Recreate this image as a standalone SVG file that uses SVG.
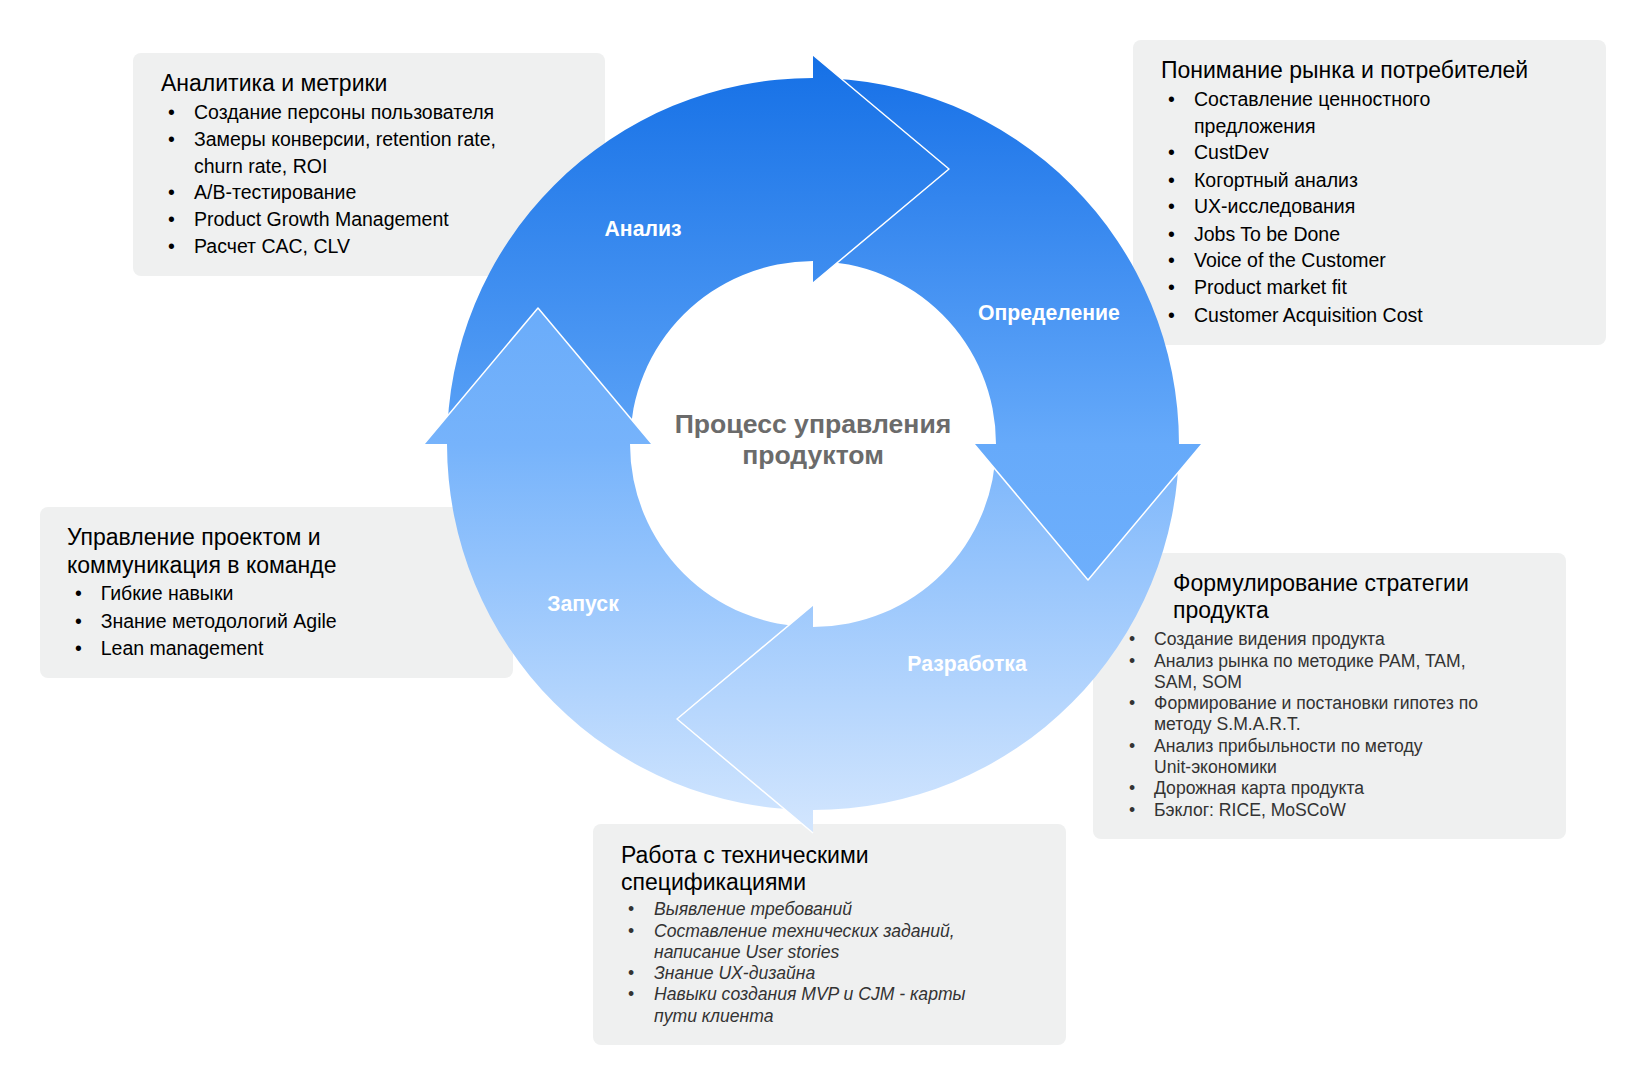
<svg xmlns="http://www.w3.org/2000/svg" width="1646" height="1086" viewBox="0 0 1646 1086">
<defs>
<linearGradient id="gA" gradientUnits="userSpaceOnUse" x1="0" y1="55" x2="0" y2="444">
<stop offset="0" stop-color="#1570e6"/><stop offset="1" stop-color="#5ca3f7"/>
</linearGradient>
<linearGradient id="gO" gradientUnits="userSpaceOnUse" x1="0" y1="78" x2="0" y2="580">
<stop offset="0" stop-color="#1a73e8"/><stop offset="0.73" stop-color="#66aafa"/><stop offset="1" stop-color="#6eaffc"/>
</linearGradient>
<linearGradient id="gZ" gradientUnits="userSpaceOnUse" x1="0" y1="310" x2="0" y2="809">
<stop offset="0" stop-color="#6aacfa"/><stop offset="0.27" stop-color="#76b3fb"/><stop offset="1" stop-color="#cde3fe"/>
</linearGradient>
<linearGradient id="gR" gradientUnits="userSpaceOnUse" x1="0" y1="444" x2="0" y2="833">
<stop offset="0" stop-color="#7ab5fb"/><stop offset="1" stop-color="#d3e6fe"/>
</linearGradient>
</defs>
<style>
.box{fill:#eff0f0}
.t{font-family:"Liberation Sans",Arial,sans-serif;fill:#000}
.h{font-size:23px}
.i{font-size:19.5px}
.s{font-size:17.6px;fill:#333}
.it{font-style:italic}
.lbl{font-family:"Liberation Sans",Arial,sans-serif;font-weight:bold;font-size:21.2px;fill:#fff;text-anchor:middle}
.ctr{font-family:"Liberation Sans",Arial,sans-serif;font-weight:bold;font-size:26.6px;fill:#6b6b6b;text-anchor:middle}
.edge{fill:none;stroke:#fff;stroke-width:1.5;stroke-linejoin:round}
</style>
<rect width="1646" height="1086" fill="#fff"/>

<g id="box-analytics">
<rect class="box" x="133" y="53" width="472" height="223" rx="8"/>
<text class="t h" x="161" y="91">Аналитика и метрики</text>
<g class="t i">
<text x="168" y="119.3">•</text><text x="194" y="119.3">Создание персоны пользователя</text>
<text x="168" y="146">•</text><text x="194" y="146">Замеры конверсии, retention rate,</text>
<text x="194" y="172.7">churn rate, ROI</text>
<text x="168" y="199.3">•</text><text x="194" y="199.3">A/B-тестирование</text>
<text x="168" y="226">•</text><text x="194" y="226">Product Growth Management</text>
<text x="168" y="252.7">•</text><text x="194" y="252.7">Расчет CAC, CLV</text>
</g>
</g>

<g id="box-market">
<rect class="box" x="1133" y="40" width="473" height="305" rx="8"/>
<text class="t h" x="1161" y="77.7">Понимание рынка и потребителей</text>
<g class="t i">
<text x="1168" y="106">•</text><text x="1194" y="106">Составление ценностного</text>
<text x="1194" y="132.7">предложения</text>
<text x="1168" y="159.3">•</text><text x="1194" y="159.3">CustDev</text>
<text x="1168" y="186.7">•</text><text x="1194" y="186.7">Когортный анализ</text>
<text x="1168" y="213.3">•</text><text x="1194" y="213.3">UX-исследования</text>
<text x="1168" y="240.7">•</text><text x="1194" y="240.7">Jobs To be Done</text>
<text x="1168" y="267.3">•</text><text x="1194" y="267.3">Voice of the Customer</text>
<text x="1168" y="294.3">•</text><text x="1194" y="294.3">Product market fit</text>
<text x="1168" y="321.7">•</text><text x="1194" y="321.7">Customer Acquisition Cost</text>
</g>
</g>

<g id="box-project">
<rect class="box" x="40" y="507" width="473" height="171" rx="8"/>
<text class="t h" x="67" y="545">Управление проектом и</text>
<text class="t h" x="67" y="572.7">коммуникация в команде</text>
<g class="t i">
<text x="75" y="600">•</text><text x="100.7" y="600">Гибкие навыки</text>
<text x="75" y="627.7">•</text><text x="100.7" y="627.7">Знание методологий Agile</text>
<text x="75" y="655">•</text><text x="100.7" y="655">Lean management</text>
</g>
</g>

<g id="box-strategy">
<rect class="box" x="1093" y="553" width="473" height="286" rx="8"/>
<text class="t h" x="1173" y="590.7">Формулирование стратегии</text>
<text class="t h" x="1173" y="618.3">продукта</text>
<g class="t s">
<text x="1129" y="645">•</text><text x="1154" y="645">Создание видения продукта</text>
<text x="1129" y="666.7">•</text><text x="1154" y="666.7">Анализ рынка по методике PAM, TAM,</text>
<text x="1154" y="687.7">SAM, SOM</text>
<text x="1129" y="709.3">•</text><text x="1154" y="709.3">Формирование и постановки гипотез по</text>
<text x="1154" y="730.3">методу S.M.A.R.T.</text>
<text x="1129" y="751.7">•</text><text x="1154" y="751.7">Анализ прибыльности по методу</text>
<text x="1154" y="772.7">Unit-экономики</text>
<text x="1129" y="794.3">•</text><text x="1154" y="794.3">Дорожная карта продукта</text>
<text x="1129" y="815.7">•</text><text x="1154" y="815.7">Бэклог: RICE, MoSCoW</text>
</g>
</g>

<g id="box-tech">
<rect class="box" x="593" y="824" width="473" height="221" rx="8"/>
<text class="t h" x="621" y="862.7">Работа с техническими</text>
<text class="t h" x="621" y="890">спецификациями</text>
<g class="t s">
<text x="628" y="915">•</text><text class="it" x="654" y="915">Выявление требований</text>
<text x="628" y="936.7">•</text><text class="it" x="654" y="936.7">Составление технических заданий,</text>
<text class="it" x="654" y="957.7">написание User stories</text>
<text x="628" y="979.3">•</text><text class="it" x="654" y="979.3">Знание UX-дизайна</text>
<text x="628" y="1000.3">•</text><text class="it" x="654" y="1000.3">Навыки создания MVP и CJM - карты</text>
<text class="it" x="654" y="1021.7">пути клиента</text>
</g>
</g>

<g id="cycle">
<g id="bodies">
<path id="body-analiz" fill="url(#gA)" d="M447,444 A366,366 0 0 1 813,78 L813,261 A183,183 0 0 0 630,444 Z"/>
<path id="body-opredelenie" fill="url(#gO)" d="M813,78 A366,366 0 0 1 1179,444 L996,444 A183,183 0 0 0 813,261 Z"/>
<path id="body-razrabotka" fill="url(#gR)" d="M1179,444 A366,366 0 0 1 813,810 L813,627 A183,183 0 0 0 996,444 Z"/>
<path id="body-zapusk" fill="url(#gZ)" d="M813,810 A366,366 0 0 1 447,444 L630,444 A183,183 0 0 0 813,627 Z"/>
</g>
<g id="heads">
<g id="head-analiz"><path fill="url(#gA)" d="M813,55 L949,169 L813,283 Z"/><path class="edge" d="M813,55 L949,169 L813,283"/></g>
<g id="head-opredelenie"><path fill="url(#gO)" d="M1202,444 L1088,580 L974,444 Z"/><path class="edge" d="M1202,444 L1088,580 L974,444"/></g>
<g id="head-razrabotka"><path fill="url(#gR)" d="M813,833 L677,719 L813,605 Z"/><path class="edge" d="M813,833 L677,719 L813,605"/></g>
<g id="head-zapusk"><path fill="url(#gZ)" d="M424,444 L538,308 L652,444 Z"/><path class="edge" d="M424,444 L538,308 L652,444"/></g>
</g>
<g id="stage-labels">
<text class="lbl" x="643" y="236">Анализ</text>
<text class="lbl" x="1049" y="320">Определение</text>
<text class="lbl" x="967" y="671">Разработка</text>
<text class="lbl" x="583" y="611">Запуск</text>
</g>
<g id="center">
<text class="ctr" x="813" y="433">Процесс управления</text>
<text class="ctr" x="813" y="464">продуктом</text>
</g>
</g>

<g id="connectors"/>
</svg>
